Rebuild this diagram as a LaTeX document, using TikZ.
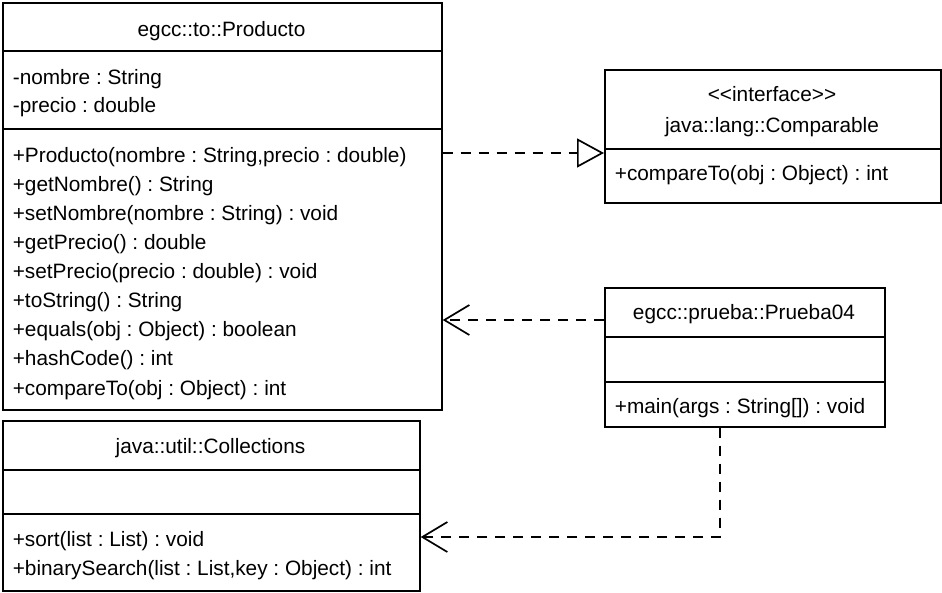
\documentclass[tikz,border=0pt]{standalone}
\usepackage{fontspec}
\setmainfont{Liberation Sans}
\usetikzlibrary{arrows.meta}
\begin{document}
\frenchspacing
\begin{tikzpicture}[x=1pt,y=-1pt, line width=1.7pt,
  box/.style={draw, rectangle, inner sep=0pt, anchor=north west},
  txt/.style={inner sep=0pt, anchor=west, text height=16pt, text depth=2pt, font=\fontsize{20.8}{24}\selectfont},
  ctxt/.style={txt, anchor=center},
  dep/.style={dash pattern=on 10pt off 8pt, -{Straight Barb[length=25pt,width=30pt]}},
  realz/.style={dash pattern=on 10pt off 8pt, -{Triangle[open,length=27pt,width=29pt,fill=white]}}
]
\useasboundingbox (0,0) rectangle (942,592);

% Producto
\node[box, minimum width=439pt, minimum height=407pt] (prod) at (2,2) {};
\draw (prod.west |- 0,51) -- (prod.east |- 0,51);
\draw (prod.west |- 0,129) -- (prod.east |- 0,129);
\node[ctxt] (prodT) at (221.5,29) {egcc::to::Producto};
\node[txt] (pa1) at (12,77) {-nombre : String};
\node[txt] (pa2) at (12,105) {-precio : double};
\node[txt] (pm1) at (12,155) {+Producto(nombre : String,precio : double)};
\node[txt] (pm2) at (12,184) {+getNombre() : String};
\node[txt] (pm3) at (12,213) {+setNombre(nombre : String) : void};
\node[txt] (pm4) at (12,242) {+getPrecio() : double};
\node[txt] (pm5) at (12,271) {+setPrecio(precio : double) : void};
\node[txt] (pm6) at (12,300) {+toString() : String};
\node[txt] (pm7) at (12,329) {+equals(obj : Object) : boolean};
\node[txt] (pm8) at (12,358) {+hashCode() : int};
\node[txt] (pm9) at (12,388) {+compareTo(obj : Object) : int};

% Comparable
\node[box, minimum width=336pt, minimum height=133pt] (comp) at (604,69) {};
\draw (comp.west |- 0,149) -- (comp.east |- 0,149);
\node[ctxt] (compS) at (772,94) {<\kern0pt<interface>\kern0pt>};
\node[ctxt] (compT) at (772,125) {java::lang::Comparable};
\node[txt] (cm1) at (614,173) {+compareTo(obj : Object) : int};

% Prueba04
\node[box, minimum width=280pt, minimum height=139pt] (prue) at (604,287) {};
\draw (prue.west |- 0,337) -- (prue.east |- 0,337);
\draw (prue.west |- 0,382) -- (prue.east |- 0,382);
\node[ctxt] (prueT) at (744,312) {egcc::prueba::Prueba04};
\node[txt] (prm1) at (614,406) {+main(args : String[]) : void};

% Collections
\node[box, minimum width=417pt, minimum height=170pt] (coll) at (2,420) {};
\draw (coll.west |- 0,470) -- (coll.east |- 0,470);
\draw (coll.west |- 0,514) -- (coll.east |- 0,514);
\node[ctxt] (collT) at (210.5,446) {java::util::Collections};
\node[txt] (clm1) at (12,539) {+sort(list : List) : void};
\node[txt] (clm2) at (12,568) {+binarySearch(list : List,key : Object) : int};

% connectors
\coordinate (yr) at (0,153);
\coordinate (yd) at (0,320);
\coordinate (yc) at (0,537);
\coordinate (xv) at (720,0);
\draw[realz] (prod.east |- yr) -- (comp.west |- yr);
\draw[dep] (prue.west |- yd) -- (prod.east |- yd);
\draw[dep] (prue.south -| xv) |- (coll.east |- yc);
\end{tikzpicture}
\end{document}
